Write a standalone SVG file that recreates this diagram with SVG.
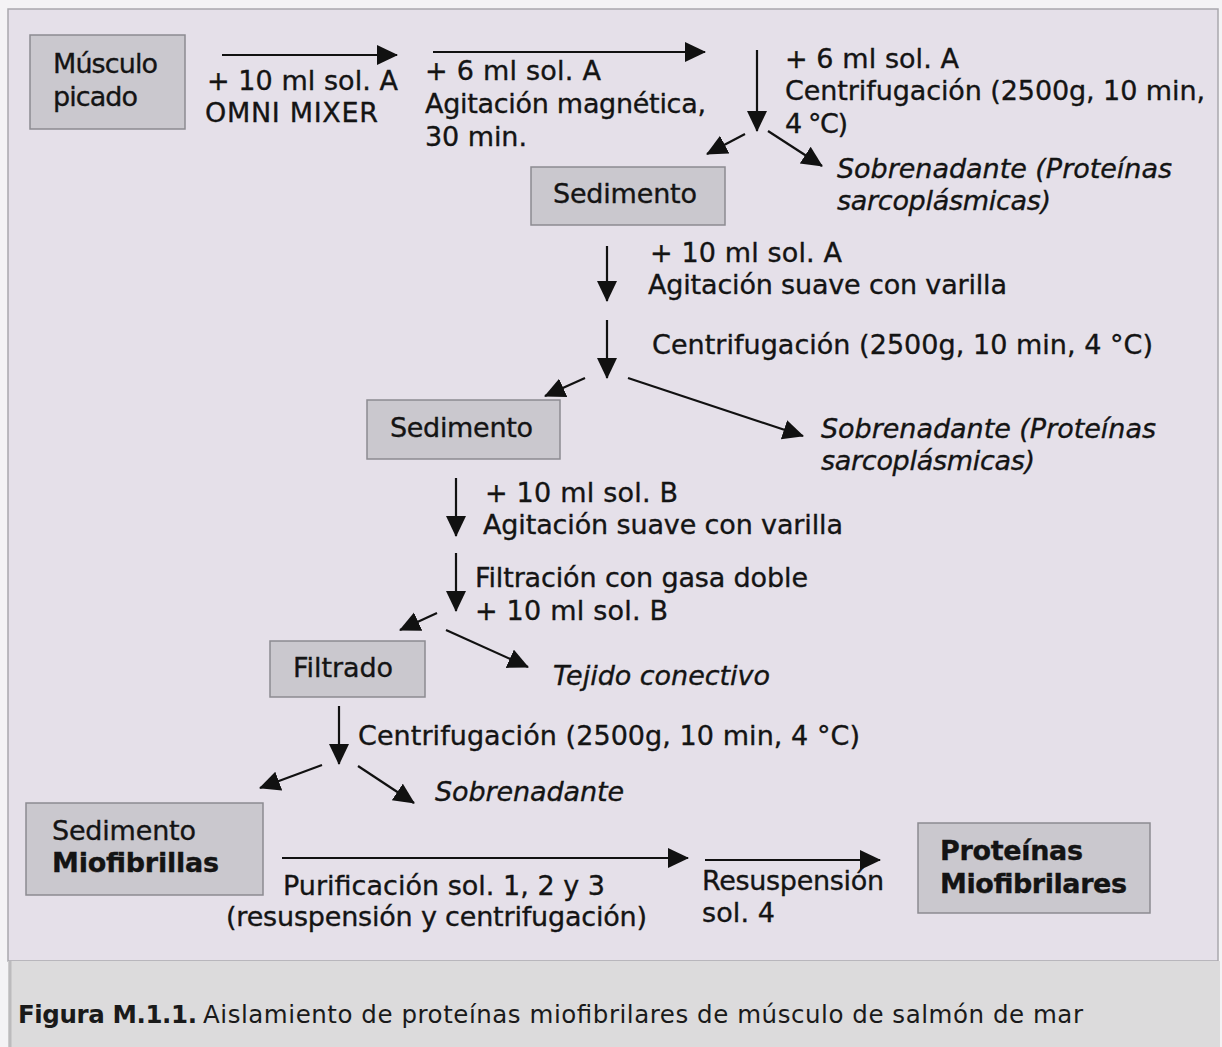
<svg xmlns="http://www.w3.org/2000/svg" width="1222" height="1047" viewBox="0 0 1222 1047">
  <style>
    .t { font-family: "DejaVu Sans", Verdana, sans-serif; font-size: 27px; fill: #141414; stroke: #141414; stroke-width: 0.35; }
    .i { font-style: italic; }
    .b { font-weight: bold; }
    .box { fill: #cac8ce; stroke: #8c8b91; stroke-width: 1.5; }
    .ln { stroke: #111; stroke-width: 2.2; fill: none; marker-end: url(#head); }
    .cap { font-family: "DejaVu Sans", "Century Gothic", sans-serif; font-size: 24.5px; fill: #1a1a1a; }
  </style>
  <defs>
    <marker id="head" markerUnits="userSpaceOnUse" markerWidth="22" markerHeight="22" refX="20" refY="10" orient="auto">
      <path d="M0,0 L21,10 L0,20 Z" fill="#111"/>
    </marker>
  </defs>

  <!-- page and panel -->
  <rect x="0" y="0" width="1222" height="1047" fill="#f4f3f5"/>
  <rect x="8" y="9" width="1210" height="952" fill="#e5e0e9" stroke="#a9a8ad" stroke-width="1.5"/>
  <rect x="8" y="961" width="1212" height="86" fill="#dcdbdc"/>
  <line x1="10" y1="961" x2="10" y2="1047" stroke="#bcbbbd" stroke-width="3"/>

  <!-- connectors -->
  <g id="connectors">
    <line class="ln" x1="222" y1="55" x2="397" y2="55"/>
    <line class="ln" x1="433" y1="52" x2="705" y2="52"/>
    <line class="ln" x1="757" y1="50" x2="757" y2="131"/>
    <line class="ln" x1="745" y1="134" x2="707" y2="154"/>
    <line class="ln" x1="768" y1="131" x2="822" y2="166"/>
    <line class="ln" x1="607" y1="246" x2="607" y2="301"/>
    <line class="ln" x1="607" y1="320" x2="607" y2="378"/>
    <line class="ln" x1="585" y1="378" x2="545" y2="396"/>
    <line class="ln" x1="628" y1="378" x2="803" y2="436"/>
    <line class="ln" x1="456" y1="478" x2="456" y2="536"/>
    <line class="ln" x1="456" y1="553" x2="456" y2="611"/>
    <line class="ln" x1="437" y1="613" x2="400" y2="630"/>
    <line class="ln" x1="446" y1="630" x2="528" y2="667"/>
    <line class="ln" x1="339" y1="706" x2="339" y2="764"/>
    <line class="ln" x1="322" y1="765" x2="260" y2="788"/>
    <line class="ln" x1="358" y1="766" x2="414" y2="803"/>
    <line class="ln" x1="282" y1="858" x2="688" y2="858"/>
    <line class="ln" x1="705" y1="860" x2="880" y2="860"/>
  </g>

  <!-- nodes -->
  <g id="musculo">
    <rect class="box" x="30" y="35" width="155" height="94"/>
    <text class="t" x="53" y="73" textLength="105">Músculo</text>
    <text class="t" x="53" y="106" textLength="85">picado</text>
  </g>
  <g id="sedimento1">
    <rect class="box" x="531" y="167" width="194" height="58"/>
    <text class="t" x="553" y="203" textLength="144">Sedimento</text>
  </g>
  <g id="sedimento2">
    <rect class="box" x="367" y="400" width="193" height="59"/>
    <text class="t" x="390" y="437" textLength="143">Sedimento</text>
  </g>
  <g id="filtrado">
    <rect class="box" x="270" y="641" width="155" height="56"/>
    <text class="t" x="293" y="677" textLength="100">Filtrado</text>
  </g>
  <g id="miofibrillas">
    <rect class="box" x="26" y="803" width="237" height="92"/>
    <text class="t" x="52" y="840" textLength="144">Sedimento</text>
    <text class="t b" x="52" y="872" textLength="167">Miofibrillas</text>
  </g>
  <g id="proteinas">
    <rect class="box" x="918" y="823" width="232" height="90"/>
    <text class="t b" x="940" y="860" textLength="143">Proteínas</text>
    <text class="t b" x="940" y="893" textLength="187">Miofibrilares</text>
  </g>

  <!-- step labels -->
  <g id="labels">
    <text class="t" x="207" y="90" textLength="191">+ 10 ml sol. A</text>
    <text class="t" x="205" y="122" textLength="173">OMNI MIXER</text>
    <text class="t" x="425" y="80" textLength="176">+ 6 ml sol. A</text>
    <text class="t" x="425" y="113" textLength="281">Agitación magnética,</text>
    <text class="t" x="425" y="146" textLength="102">30 min.</text>
    <text class="t" x="785" y="68" textLength="174">+ 6 ml sol. A</text>
    <text class="t" x="785" y="100" textLength="420">Centrifugación (2500g, 10 min,</text>
    <text class="t" x="785" y="133" textLength="63">4 °C)</text>
    <text class="t i" x="837" y="178" textLength="335">Sobrenadante (Proteínas</text>
    <text class="t i" x="837" y="210" textLength="214">sarcoplásmicas)</text>
    <text class="t" x="650" y="262" textLength="192">+ 10 ml sol. A</text>
    <text class="t" x="648" y="294" textLength="359">Agitación suave con varilla</text>
    <text class="t" x="652" y="354" textLength="501">Centrifugación (2500g, 10 min, 4 °C)</text>
    <text class="t i" x="821" y="438" textLength="335">Sobrenadante (Proteínas</text>
    <text class="t i" x="821" y="470" textLength="214">sarcoplásmicas)</text>
    <text class="t" x="485" y="502" textLength="193">+ 10 ml sol. B</text>
    <text class="t" x="483" y="534" textLength="360">Agitación suave con varilla</text>
    <text class="t" x="475" y="587" textLength="333">Filtración con gasa doble</text>
    <text class="t" x="475" y="620" textLength="193">+ 10 ml sol. B</text>
    <text class="t i" x="553" y="685" textLength="217">Tejido conectivo</text>
    <text class="t" x="358" y="745" textLength="502">Centrifugación (2500g, 10 min, 4 °C)</text>
    <text class="t i" x="435" y="801" textLength="189">Sobrenadante</text>
    <text class="t" x="283" y="895" textLength="322">Purificación sol. 1, 2 y 3</text>
    <text class="t" x="226" y="926" textLength="421">(resuspensión y centrifugación)</text>
    <text class="t" x="702" y="890" textLength="182">Resuspensión</text>
    <text class="t" x="702" y="922" textLength="73">sol. 4</text>
  </g>

  <!-- caption -->
  <text class="cap" x="18" y="1023"><tspan class="b" textLength="179">Figura M.1.1.</tspan><tspan x="203" textLength="880">Aislamiento de proteínas miofibrilares de músculo de salmón de mar</tspan></text>
</svg>
